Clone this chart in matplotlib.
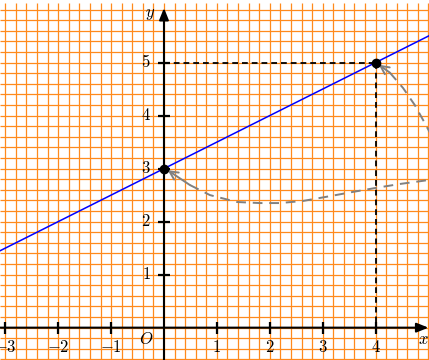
import numpy as np
import matplotlib
matplotlib.use("Agg")
import matplotlib.pyplot as plt

plt.rcParams['mathtext.fontset'] = 'cm'
plt.rcParams['font.family'] = ['DejaVu Serif']

# ---- data ----
x_ticks = [-3, -2, -1, 1, 2, 3, 4]
x_tick_labels = ['$-3$', '$-2$', '$-1$', '$1$', '$2$', '$3$', '$4$']
y_ticks = [1, 2, 3, 4, 5]
y_tick_labels = ['$1$', '$2$', '$3$', '$4$', '$5$']

line_slope = 0.5
line_intercept = 3.0

pt_x = [0, 4]
pt_y = [3, 5]

# gray dashed curve toward (0,3)
curve2_x = [0.07, 0.49, 0.87, 1.38, 1.81, 2.19, 2.63, 3.08, 3.57, 4.03, 4.46, 4.90, 5.10]
curve2_y = [2.97, 2.69, 2.50, 2.37, 2.35, 2.35, 2.39, 2.47, 2.56, 2.64, 2.71, 2.77, 2.80]
# gray dashed curve toward (4,5)
curve1_x = [4.06, 4.27, 4.52, 4.74, 4.93, 5.08]
curve1_y = [4.96, 4.81, 4.52, 4.20, 3.86, 3.58]

XMIN, XMAX = -3.10, 5.01
YMIN, YMAX = -0.61, 6.18

fig = plt.figure(figsize=(4.29, 3.60), dpi=100)
ax = fig.add_axes([0, 0, 1, 1])
ax.set_xlim(XMIN, XMAX)
ax.set_ylim(YMIN, YMAX)
ax.axis('off')

# grid every 0.2
grid_color = '#ff8a1c'
gx = np.arange(-3.0, 5.01, 0.2)
gy = np.arange(-0.6, 6.01, 0.2)
ax.vlines(gx, YMIN, 6.12, colors=grid_color, lw=0.9, zorder=1)
ax.hlines(gy, XMIN, XMAX, colors=grid_color, lw=0.9, zorder=1)

# axes with arrows
ax.annotate('', xy=(XMAX - 0.01, 0), xytext=(XMIN, 0),
            arrowprops=dict(arrowstyle='-|>,head_length=0.7,head_width=0.28',
                            lw=1.5, color='black', shrinkA=0, shrinkB=0), zorder=5)
ax.annotate('', xy=(0, 6.03), xytext=(0, YMIN),
            arrowprops=dict(arrowstyle='-|>,head_length=0.7,head_width=0.28',
                            lw=1.5, color='black', shrinkA=0, shrinkB=0), zorder=5)

# ticks
ax.plot(x_ticks, [0] * len(x_ticks), ls='none', marker='|', ms=8, mew=1.6,
        color='black', zorder=5)
ax.plot([0] * len(y_ticks), y_ticks, ls='none', marker='_', ms=8, mew=1.6,
        color='black', zorder=5)

for xv, lbl in zip(x_ticks, x_tick_labels):
    ax.annotate(lbl, (xv, 0), xytext=(0, -20), textcoords='offset pixels',
                ha='center', va='center', fontsize=12, zorder=6)
for yv, lbl in zip(y_ticks, y_tick_labels):
    ax.annotate(lbl, (0, yv), xytext=(-18, 0), textcoords='offset pixels',
                ha='center', va='center', fontsize=12, zorder=6)

ax.annotate('$O$', (0, 0), xytext=(-18, -12), textcoords='offset pixels',
            ha='center', va='center', fontsize=12, zorder=6)
ax.text(-0.27, 5.93, '$y$', ha='center', va='center', fontsize=12, zorder=6)
ax.text(4.90, -0.23, '$x$', ha='center', va='center', fontsize=12, zorder=6)

# blue line
lx = np.array([XMIN, XMAX])
ax.plot(lx, line_slope * lx + line_intercept, color='#0000ff', lw=1.1, zorder=4)

# dashed projections
ax.plot([0, pt_x[1]], [pt_y[1], pt_y[1]], color='black', lw=1.3,
        ls=(0, (3.2, 2.2)), zorder=4)
ax.plot([pt_x[1], pt_x[1]], [pt_y[1], 0], color='black', lw=1.3,
        ls=(0, (3.2, 2.2)), zorder=4)

# gray curves
gray = '#808080'
ax.plot(curve2_x[1:], curve2_y[1:], color=gray, lw=1.4, ls=(0, (5, 3.5)), zorder=4)
ax.plot(curve1_x[1:], curve1_y[1:], color=gray, lw=1.4, ls=(0, (5, 3.5)), zorder=4)
for cx, cy in ((curve2_x, curve2_y), (curve1_x, curve1_y)):
    ax.annotate('', xy=(cx[0], cy[0]), xytext=(cx[1], cy[1]),
                arrowprops=dict(arrowstyle='->,head_length=0.6,head_width=0.3',
                                lw=1.4, color=gray, shrinkA=0, shrinkB=0), zorder=4)

# points
ax.plot(pt_x, pt_y, ls='none', marker='o', ms=6, color='black', zorder=6)

fig.savefig('out.png', dpi=100)
